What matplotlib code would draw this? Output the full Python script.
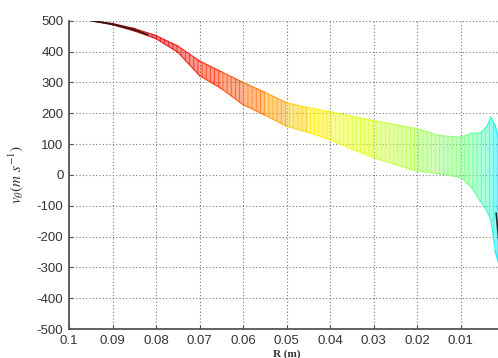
import numpy as np
import matplotlib
matplotlib.use('Agg')
import matplotlib.pyplot as plt

# radius (m) along the profile
R = [0.0948, 0.09, 0.085, 0.08, 0.075, 0.07, 0.065, 0.06, 0.055, 0.05,
     0.045, 0.04, 0.035, 0.03, 0.025, 0.02, 0.015, 0.01, 0.0075, 0.0055,
     0.004, 0.003, 0.002, 0.001]
# upper and lower edge of the spread of v_theta (m/s)
v_up = [500, 491, 475, 452, 418, 370, 335, 300, 268, 234,
        218, 205, 190, 176, 163, 150, 128, 122, 135, 136,
        156, 187, 160, 100]
v_lo = [500, 487, 467, 442, 398, 322, 280, 228, 194, 158,
        138, 114, 84, 56, 34, 12, 4, -8, -40, -84,
        -115, -147, -250, -300]
# colour position (jet) along the profile
c_pos = [1.0, 0.97, 0.94, 0.91, 0.89, 0.87, 0.83, 0.79, 0.74, 0.69,
         0.66, 0.64, 0.62, 0.6, 0.57, 0.54, 0.51, 0.49, 0.46, 0.43,
         0.4, 0.37, 0.35, 0.33]
# dark mean line visible at both ends
R_dark1 = [0.0948, 0.09, 0.085, 0.082]
v_dark1 = [500, 489, 471, 455]
R_dark2 = [0.0018, 0.0015, 0.0012]
v_dark2 = [-125, -170, -212]

xticks = [0.1, 0.09, 0.08, 0.07, 0.06, 0.05, 0.04, 0.03, 0.02, 0.01, 0.0]
xlabels = ['0.1', '0.09', '0.08', '0.07', '0.06', '0.05', '0.04', '0.03', '0.02', '0.01', '']
yticks = [500, 400, 300, 200, 100, 0, -100, -200, -300, -400, -500]

plt.rcParams['font.family'] = ['Liberation Sans', 'DejaVu Sans']
plt.rcParams['mathtext.fontset'] = 'stix'
plt.rcParams['axes.unicode_minus'] = False
plt.rcParams['hatch.linewidth'] = 0.6

fig = plt.figure(figsize=(4.98, 3.58), dpi=100)
ax = fig.add_axes([0.1386, 0.081, 0.8735, 0.861])

cmap = plt.get_cmap('jet')
for i in range(len(R) - 1):
    col = cmap(c_pos[i])
    ax.fill_between(R[i:i + 2], v_lo[i:i + 2], v_up[i:i + 2],
                    facecolor=col, alpha=0.45, linewidth=0, zorder=2)
    ax.fill_between(R[i:i + 2], v_lo[i:i + 2], v_up[i:i + 2],
                    facecolor='none', edgecolor=col, hatch='||||',
                    linewidth=0, alpha=0.8, zorder=2)
    ax.plot(R[i:i + 2], v_up[i:i + 2], color=col, lw=0.9, alpha=0.8, zorder=3)
    ax.plot(R[i:i + 2], v_lo[i:i + 2], color=col, lw=0.9, alpha=0.8, zorder=3)

ax.plot(R_dark1, v_dark1, color='#3a1010', lw=1.2, zorder=4)
ax.plot(R_dark2, v_dark2, color='#203030', lw=1.2, zorder=4)

ax.set_xlim(0.1, 0.0)
ax.set_ylim(-500, 500)
ax.set_xticks(xticks)
ax.set_xticklabels(xlabels)
ax.set_yticks(yticks)

ax.grid(True, color='#777777', linestyle=(0, (1, 2)), linewidth=0.8)
ax.set_axisbelow(True)
for s in ['top', 'right']:
    ax.spines[s].set_visible(False)
for s in ['left', 'bottom']:
    ax.spines[s].set_color('#555555')
    ax.spines[s].set_linewidth(1.3)
ax.tick_params(direction='in', length=3, colors='#555555', labelsize=9.5,
               labelcolor='#333333', pad=4)

ax.set_xlabel('R (m)', fontfamily='Liberation Serif', fontsize=8,
              fontweight='bold', color='#333333', labelpad=2)
ax.set_ylabel(r'$v_{\theta}(m\ s^{-1})$', fontsize=11, color='#333333', labelpad=8)

fig.savefig('out.png', dpi=100)
